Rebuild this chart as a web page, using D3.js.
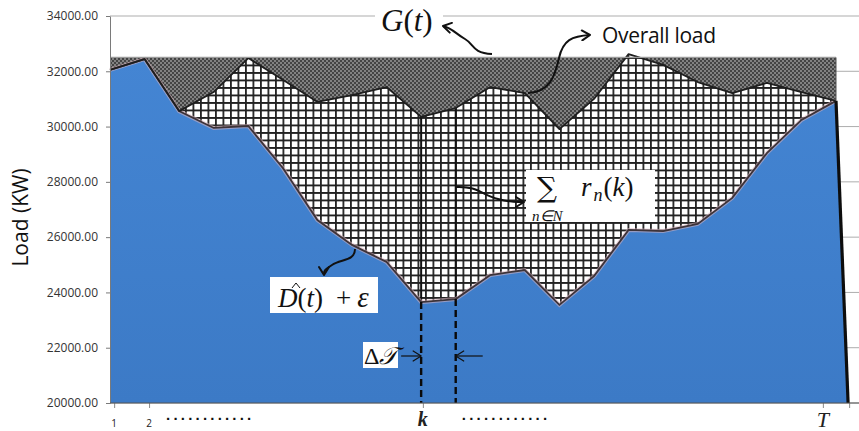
<!DOCTYPE html>
<html>
<head>
<meta charset="utf-8">
<script src="https://cdn.jsdelivr.net/npm/d3@7/dist/d3.min.js"></script>
<style>
  body { margin: 0; background: #fff; }
  svg { display: block; }
</style>
</head>
<body>
<svg id="chart" width="859" height="431"></svg>
<script>
// Time slots of the scheduling horizon (1 .. T)
const slots = d3.range(22);
// Overall load: base demand plus the scheduled flexible requests
const overallLoad = [32050, 32440, 30560, 31250, 32480, 31690, 30890, 31140, 31430, 30350, 30670,
                     31430, 31210, 29910, 31000, 32620, 32230, 31610, 31210, 31580, 31250, 30930];
// Forecast base demand D^(t) + epsilon
const baseLoad = [32050, 32440, 30560, 29950, 30020, 28500, 26620, 25720, 25100, 23650, 23760,
                  24630, 24810, 23550, 24590, 26260, 26220, 26480, 27420, 29040, 30240, 30930];
// Generation capacity G(t)
const capacity = 32500;
// Slot where the base demand area drops back to the axis
const endSlot = 21.35;
// Highlighted slot k
const kSlot = 9;
// Axis ticks
const loadTicks = [20000, 22000, 24000, 26000, 28000, 30000, 32000, 34000];
const slotTicks = [0.12, 1.13, 9.05, 20.62, 21.38];
const slotTickLabels = ["1", "2", "k", "T", ""];

const W = 859, H = 431;
const svg = d3.select("#chart");
const x = d3.scaleLinear().domain([0, 21]).range([110, 836]);
const y = d3.scaleLinear().domain([20000, 34000]).range([403, 16]);

const defs = svg.append("defs");
// dark dotted texture for the capacity band
const dots = defs.append("pattern").attr("id", "dots")
  .attr("patternUnits", "userSpaceOnUse").attr("width", 4).attr("height", 4);
dots.append("rect").attr("width", 4).attr("height", 4).attr("fill", "#828282");
dots.append("rect").attr("width", 2).attr("height", 2).attr("fill", "#444");
dots.append("rect").attr("x", 2).attr("y", 2).attr("width", 2).attr("height", 2).attr("fill", "#444");
// crosshatch for the flexible requests
const hatch = defs.append("pattern").attr("id", "hatch")
  .attr("patternUnits", "userSpaceOnUse").attr("width", 7.5).attr("height", 7.5)
  .attr("x", 110).attr("y", 57);
hatch.append("rect").attr("width", 7.5).attr("height", 7.5).attr("fill", "#fff");
hatch.append("path").attr("d", "M0,0.9H7.5M0.9,0V7.5")
  .attr("stroke", "#222").attr("stroke-width", 1.8).attr("fill", "none");
// blue fill
const grad = defs.append("linearGradient").attr("id", "blue")
  .attr("x1", 0).attr("y1", 0).attr("x2", 0).attr("y2", 1);
grad.append("stop").attr("offset", 0).attr("stop-color", "#4485d3");
grad.append("stop").attr("offset", 1).attr("stop-color", "#3c7ac6");
// arrowheads
function arrowMarker(id, width) {
  defs.append("marker").attr("id", id)
    .attr("viewBox", "-10 -6 12 12").attr("refX", 0).attr("refY", 0)
    .attr("markerWidth", 12).attr("markerHeight", 12).attr("markerUnits", "userSpaceOnUse")
    .attr("orient", "auto")
    .append("path").attr("d", "M-8,-5L0,0L-8,5")
    .attr("fill", "none").attr("stroke", "#111").attr("stroke-width", width)
    .attr("stroke-linecap", "round").attr("stroke-linejoin", "round");
}
arrowMarker("head", 2);
arrowMarker("headThin", 1.2);

// horizontal gridlines
svg.append("g").selectAll("line").data(loadTicks).join("line")
  .attr("x1", x(0)).attr("x2", W)
  .attr("y1", d => y(d)).attr("y2", d => y(d))
  .attr("stroke", "#adadad").attr("stroke-width", 1);

const rows = slots.map(i => ({ t: i, overall: overallLoad[i], base: baseLoad[i] }));

// capacity band
svg.append("path")
  .datum(rows)
  .attr("d", d3.area().x(d => x(d.t)).y0(y(20000)).y1(y(capacity)))
  .attr("fill", "url(#dots)");

// flexible requests (between base demand and overall load)
svg.append("path")
  .datum(rows)
  .attr("d", d3.area().x(d => x(d.t)).y0(d => y(d.base)).y1(d => y(d.overall)))
  .attr("fill", "url(#hatch)");

// requests scheduled in slot k
const kRows = [rows[kSlot], rows[kSlot + 1]];
svg.append("g").selectAll("line").data(kRows).join("line")
  .attr("x1", d => x(d.t)).attr("x2", d => x(d.t))
  .attr("y1", d => y(d.overall)).attr("y2", d => y(d.base))
  .attr("stroke", "#111").attr("stroke-width", 2);

// base demand area
const baseRows = rows.map(d => ({ t: d.t, v: d.base })).concat([{ t: endSlot, v: 20000 }]);
svg.append("path")
  .datum(baseRows)
  .attr("d", d3.area().x(d => x(d.t)).y0(y(20000)).y1(d => y(d.v)))
  .attr("fill", "url(#blue)");

const baseLine = d3.line().x(d => x(d.t)).y(d => y(d.base));
svg.append("path").datum(rows).attr("d", baseLine)
  .attr("fill", "none").attr("stroke", "#d9b3bd").attr("stroke-width", 4).attr("opacity", 0.55);
svg.append("path").datum(rows).attr("d", baseLine)
  .attr("fill", "none").attr("stroke", "#3d3338").attr("stroke-width", 1.8);

// closing edge of the base demand area
svg.append("path").datum(baseRows.slice(-2))
  .attr("d", d3.line().x(d => x(d.t)).y(d => y(d.v)))
  .attr("stroke", "#0d0d0d").attr("stroke-width", 3.2).attr("fill", "none");

// overall load outline
svg.append("path").datum(rows)
  .attr("d", d3.line().x(d => x(d.t)).y(d => y(d.overall)))
  .attr("fill", "none").attr("stroke", "#1e1e1e").attr("stroke-width", 1.8).attr("stroke-linejoin", "round");

// capacity band edges
svg.append("line").attr("x1", x(0)).attr("x2", x(21)).attr("y1", y(capacity)).attr("y2", y(capacity))
  .attr("stroke", "#9a9a9a").attr("stroke-width", 1.2);
svg.append("line").attr("x1", x(21)).attr("x2", x(21)).attr("y1", y(capacity)).attr("y2", y(overallLoad[21]))
  .attr("stroke", "#555").attr("stroke-width", 1);

// dashed guides below slot k
svg.append("g").selectAll("line").data(kRows).join("line")
  .attr("x1", d => x(d.t)).attr("x2", d => x(d.t))
  .attr("y1", d => y(d.base)).attr("y2", y(20000))
  .attr("stroke", "#0a0a0a").attr("stroke-width", 2.4).attr("stroke-dasharray", "7,4");

// y axis
const yAxis = svg.append("g").attr("transform", `translate(${x(0)},0)`)
  .call(d3.axisLeft(y).tickValues(loadTicks).tickFormat(d3.format(".2f"))
    .tickSize(4).tickSizeOuter(0).tickPadding(8));
yAxis.select(".domain").attr("stroke", "#7a7a7a");
yAxis.selectAll(".tick line").attr("stroke", "#7a7a7a");
yAxis.selectAll("text").attr("font-family", "Open Sans, sans-serif").attr("font-size", 12)
  .attr("fill", "#333");

// x axis
const xAxis = svg.append("g").attr("transform", `translate(0,${y(20000)})`)
  .call(d3.axisBottom(x).tickValues(slotTicks).tickFormat("").tickSize(5).tickSizeOuter(0));
xAxis.select(".domain").remove();
xAxis.selectAll(".tick line").attr("stroke", "#8a8a8a");
svg.append("line").attr("x1", x(0)).attr("x2", W).attr("y1", y(20000)).attr("y2", y(20000))
  .attr("stroke", "#555").attr("stroke-width", 1.2);

// slot labels
const labelStyle = [
  { ff: "Open Sans, sans-serif", fs: 10, fw: "normal", st: "normal", dy: 24 },
  { ff: "Open Sans, sans-serif", fs: 10, fw: "normal", st: "normal", dy: 24 },
  { ff: "Liberation Serif, serif", fs: 20, fw: "bold", st: "italic", dy: 23 },
  { ff: "Liberation Serif, serif", fs: 22, fw: "normal", st: "italic", dy: 24 },
  { ff: "Liberation Serif, serif", fs: 10, fw: "normal", st: "normal", dy: 24 }
];
svg.append("g").selectAll("text").data(slotTicks).join("text")
  .attr("x", d => x(d)).attr("y", (d, i) => y(20000) + labelStyle[i].dy)
  .attr("text-anchor", "middle")
  .attr("font-family", (d, i) => labelStyle[i].ff)
  .attr("font-size", (d, i) => labelStyle[i].fs)
  .attr("font-weight", (d, i) => labelStyle[i].fw)
  .attr("font-style", (d, i) => labelStyle[i].st)
  .attr("fill", "#222")
  .text((d, i) => slotTickLabels[i]);

// ellipses along the time axis
[[x(slotTicks[1]) + 17], [x(slotTicks[2]) + 39]].forEach(([sx]) => {
  svg.append("text").attr("x", sx).attr("y", y(20000) + 17)
    .attr("font-family", "Liberation Sans, sans-serif").attr("font-size", 15).attr("font-weight", "bold")
    .attr("letter-spacing", 3.2).attr("fill", "#111").text("............");
});

// y axis title
svg.append("text")
  .attr("transform", `translate(28,${(y(20000) + y(34000)) / 2 + 8}) rotate(-90)`)
  .attr("text-anchor", "middle")
  .attr("font-family", "Open Sans, sans-serif").attr("font-size", 21).attr("fill", "#111")
  .text("Load (KW)");

const math = "Liberation Serif, serif";

// G(t)
svg.append("rect").attr("x", 375).attr("y", 2).attr("width", 68).attr("height", 42).attr("fill", "#fff");
const gT = svg.append("text").attr("x", 381).attr("y", 31)
  .attr("font-family", math).attr("font-size", 31).attr("fill", "#111");
gT.append("tspan").attr("font-style", "italic").text("G");
gT.append("tspan").text("(");
gT.append("tspan").attr("font-style", "italic").text("t");
gT.append("tspan").text(")");
svg.append("path").attr("d", "M492,54 C472,53 474,44 465,39 S452,28 443,26")
  .attr("fill", "none").attr("stroke", "#111").attr("stroke-width", 2).attr("marker-end", "url(#head)");

// Overall load
svg.append("text").attr("x", 602).attr("y", 43)
  .attr("font-family", "Open Sans, sans-serif").attr("font-size", 21).attr("fill", "#111")
  .attr("letter-spacing", -0.3).text("Overall load");
svg.append("path").attr("d", "M528,93 C550,92 555,76 559,58 S572,36 590,35")
  .attr("fill", "none").attr("stroke", "#111").attr("stroke-width", 2).attr("marker-end", "url(#head)");

// sum of requests
svg.append("rect").attr("x", 526).attr("y", 170).attr("width", 129).attr("height", 52).attr("fill", "#fff");
svg.append("text").attr("x", 537).attr("y", 197)
  .attr("font-family", "DejaVu Serif, serif").attr("font-size", 28).attr("fill", "#111").text("∑");
svg.append("text").attr("x", 532).attr("y", 221)
  .attr("font-family", math).attr("font-size", 15).attr("font-style", "italic").attr("fill", "#111")
  .text("n∈N");
const rT = svg.append("text").attr("x", 581).attr("y", 196)
  .attr("font-family", math).attr("font-size", 27).attr("fill", "#111");
rT.append("tspan").attr("font-style", "italic").text("r");
rT.append("tspan").attr("font-style", "italic").attr("font-size", 18).attr("dy", 5).attr("dx", 2).text("n");
rT.append("tspan").attr("dy", -5).attr("dx", 1).text("(");
rT.append("tspan").attr("font-style", "italic").text("k");
rT.append("tspan").text(")");
svg.append("path").attr("d", "M456,187 C478,186 482,195 498,199 S514,202 524,202")
  .attr("fill", "none").attr("stroke", "#111").attr("stroke-width", 2).attr("marker-end", "url(#head)");

// D^(t) + epsilon
svg.append("rect").attr("x", 270).attr("y", 277).attr("width", 108).attr("height", 36).attr("fill", "#fff");
const dT = svg.append("text").attr("x", 278).attr("y", 307)
  .attr("font-family", math).attr("font-size", 27).attr("fill", "#111");
dT.append("tspan").attr("font-style", "italic").text("D");
dT.append("tspan").text("(");
dT.append("tspan").attr("font-style", "italic").text("t");
dT.append("tspan").text(")");
dT.append("tspan").attr("dx", 13).text("+");
dT.append("tspan").attr("dx", 6).attr("font-style", "italic").attr("font-size", 29).text("ε");
// circumflex accent
svg.append("path").attr("d", "M292,288 L296,283 L300,288")
  .attr("fill", "none").attr("stroke", "#111").attr("stroke-width", 1);
svg.append("path").attr("d", "M355,249 C355,261 341,259 332,265 S324,271 324,275")
  .attr("fill", "none").attr("stroke", "#111").attr("stroke-width", 2).attr("marker-end", "url(#head)");

// Delta T
svg.append("rect").attr("x", 363).attr("y", 342).attr("width", 35).attr("height", 26).attr("fill", "#fff");
const tT = svg.append("text").attr("x", 364).attr("y", 364)
  .attr("font-family", math).attr("font-size", 24).attr("fill", "#111");
tT.append("tspan").text("Δ");
tT.append("tspan").attr("font-style", "italic").text("𝒯");
svg.append("line").attr("x1", x(kSlot) - 20).attr("x2", x(kSlot)).attr("y1", 356).attr("y2", 356)
  .attr("stroke", "#111").attr("stroke-width", 1.2).attr("marker-end", "url(#headThin)");
svg.append("line").attr("x1", x(kSlot + 1) + 27).attr("x2", x(kSlot + 1)).attr("y1", 356).attr("y2", 356)
  .attr("stroke", "#111").attr("stroke-width", 1.2).attr("marker-end", "url(#headThin)");
</script>
</body>
</html>
